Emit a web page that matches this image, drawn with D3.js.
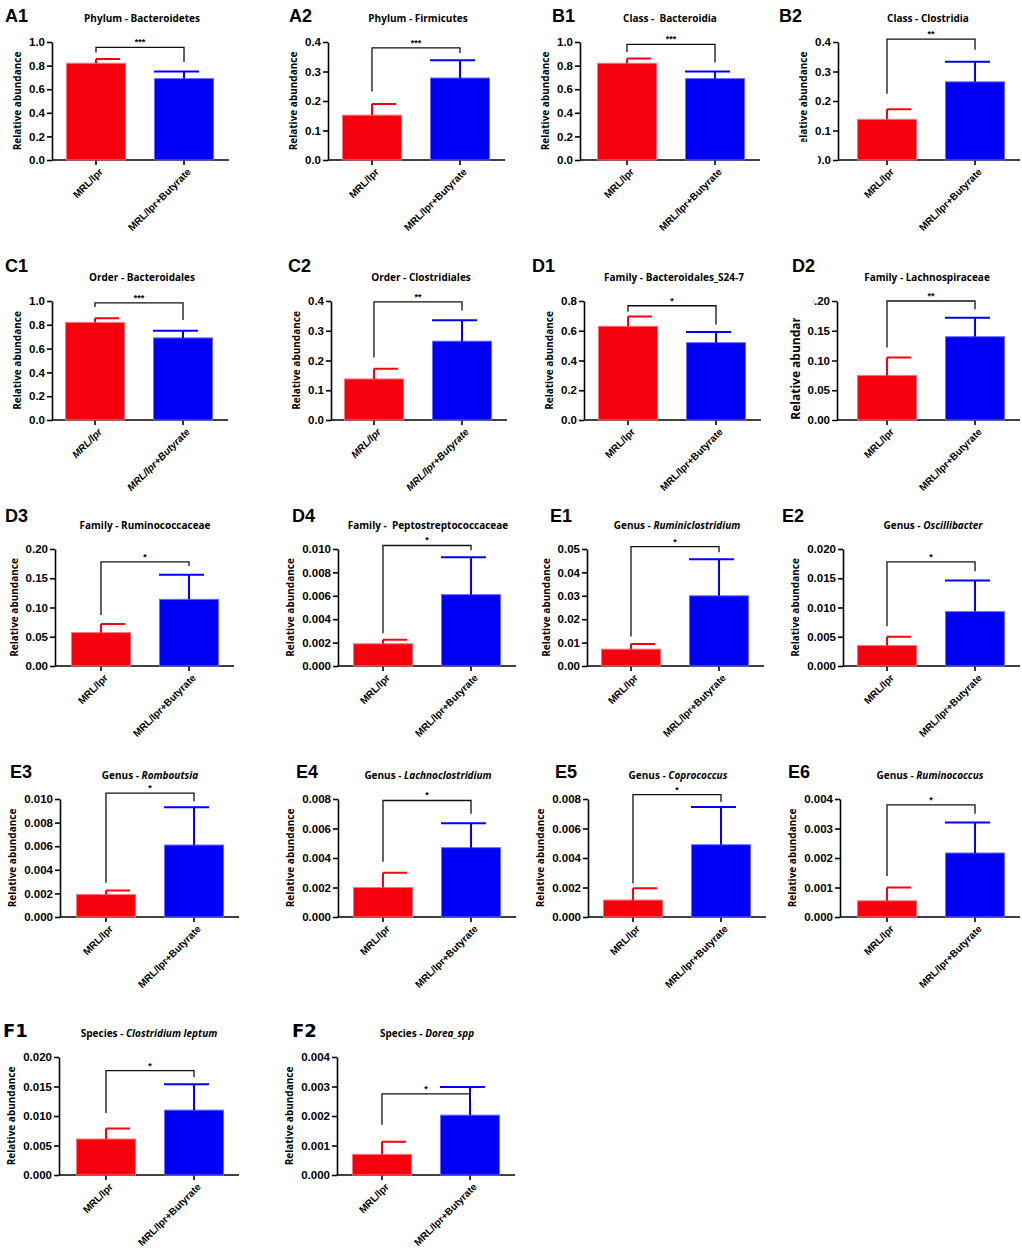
<!DOCTYPE html>
<html>
<head>
<meta charset="utf-8">
<script src="https://cdn.jsdelivr.net/npm/d3@7"></script>
<style>
body { margin: 0; background: #fff; }
svg { display: block; }
.y.axis text { font-family: "Liberation Sans", Arial, sans-serif; font-weight: bold; font-size: 11.5px; fill: #000; }
.x.axis text { font-family: "Liberation Sans", Arial, sans-serif; font-weight: bold; font-size: 10px; fill: #000; }
.axis path, .axis line { stroke: #000; stroke-width: 1.6px; }
.title { font-family: "Open Sans", sans-serif; font-weight: 700; font-size: 10px; }
.ylabel { font-family: "Open Sans", sans-serif; font-weight: 700; font-size: 10px; }
.panel { font-family: "Liberation Sans", Arial, sans-serif; font-weight: bold; font-size: 18px; }
.stars { font-family: "Liberation Sans", Arial, sans-serif; font-weight: bold; font-size: 9px; }
</style>
</head>
<body>
<div id="graphic"></div>
<script>
// ---- data ----
var panelIds = ["A1","A2","B1","B2","C1","C2","D1","D2","D3","D4","E1","E2","E3","E4","E5","E6","F1","F2"];
var titleRank = ["Phylum - ","Phylum - ","Class -  ","Class - ","Order - ","Order - ","Family - ","Family - ",
                 "Family - ","Family -  ","Genus - ","Genus - ","Genus - ","Genus - ","Genus - ","Genus - ",
                 "Species - ","Species - "];
var titleTaxon = ["Bacteroidetes","Firmicutes","Bacteroidia","Clostridia","Bacteroidales","Clostridiales",
                  "Bacteroidales_S24-7","Lachnospiraceae","Ruminococcaceae","Peptostreptococcaceae",
                  "Ruminiclostridium","Oscillibacter","Romboutsia","Lachnoclostridium","Coprococcus",
                  "Ruminococcus","Clostridium leptum","Dorea_spp"];
var taxonItalic = [false,false,false,false,false,false,false,false,false,false,
                   true,true,true,true,true,true,true,true];
var groups = ["MRL/lpr", "MRL/lpr+Butyrate"];

var meanLpr   = [0.82, 0.152, 0.82, 0.138, 0.82, 0.138, 0.63, 0.075, 0.057, 0.0019, 0.0072, 0.0035, 0.0019, 0.0020, 0.00115, 0.00055, 0.0061, 0.0007];
var errTopLpr = [0.855, 0.19, 0.86, 0.172, 0.855, 0.172, 0.695, 0.105, 0.072, 0.00225, 0.0094, 0.005, 0.00225, 0.0030, 0.00195, 0.001, 0.0079, 0.00113];
var meanBut   = [0.69, 0.278, 0.69, 0.265, 0.69, 0.265, 0.52, 0.14, 0.114, 0.0061, 0.030, 0.0093, 0.0061, 0.0047, 0.0049, 0.00217, 0.011, 0.00203];
var errTopBut = [0.75, 0.338, 0.75, 0.333, 0.75, 0.335, 0.592, 0.172, 0.156, 0.0093, 0.0456, 0.0146, 0.0093, 0.00635, 0.00745, 0.0032, 0.0154, 0.00298];

var yTicks = [
    [0, 0.2, 0.4, 0.6, 0.8, 1.0],
    [0, 0.1, 0.2, 0.3, 0.4],
    [0, 0.2, 0.4, 0.6, 0.8, 1.0],
    [0, 0.1, 0.2, 0.3, 0.4],
    [0, 0.2, 0.4, 0.6, 0.8, 1.0],
    [0, 0.1, 0.2, 0.3, 0.4],
    [0, 0.2, 0.4, 0.6, 0.8],
    [0, 0.05, 0.10, 0.15, 0.20],
    [0, 0.05, 0.10, 0.15, 0.20],
    [0, 0.002, 0.004, 0.006, 0.008, 0.010],
    [0, 0.01, 0.02, 0.03, 0.04, 0.05],
    [0, 0.005, 0.010, 0.015, 0.020],
    [0, 0.002, 0.004, 0.006, 0.008, 0.010],
    [0, 0.002, 0.004, 0.006, 0.008],
    [0, 0.002, 0.004, 0.006, 0.008],
    [0, 0.001, 0.002, 0.003, 0.004],
    [0, 0.005, 0.010, 0.015, 0.020],
    [0, 0.001, 0.002, 0.003, 0.004]
];
var tickDigits = [1,1,1,1,1,1,1,2,2,3,2,3,3,3,3,3,3,3];

// significance bracket: level, and where each leg stops
var stars     = ["***","***","***","**","***","**","*","**","*","*","*","*","*","*","*","*","*","*"];
var bracketAt = [0.955, 0.38, 0.98, 0.41, 0.985, 0.397, 0.768, 0.20, 0.178, 0.0103, 0.051, 0.0178, 0.0105, 0.0079, 0.0083, 0.0038, 0.0177, 0.00275];
var legLpr    = [0.91, 0.232, 0.915, 0.225, 0.95, 0.21, 0.728, 0.122, 0.087, 0.0028, 0.0126, 0.0068, 0.0029, 0.00375, 0.00227, 0.00139, 0.0105, 0.0017];
var legBut    = [0.83, 0.363, 0.827, 0.374, 0.84, 0.368, 0.642, 0.186, 0.171, 0.0099, 0.0486, 0.0162, 0.0098, 0.0070, 0.0078, 0.0035, 0.0166, 0.0025];

// ---- layout ----
var rowTop    = [42, 301, 549, 799, 1057];
var rowBase   = [160, 420, 666, 917, 1175];
var rowLabelY = [22, 272, 522, 778, 1037];
var axisX  = [52, 328, 580, 838,  52, 331, 584, 837,  55, 338, 587, 843,  60, 338, 588, 840,  59, 337];
var barX0  = [66, 342, 597, 857,  65, 344, 598, 857,  71, 353, 601, 857,  76, 353, 603, 857,  76, 352];
var labelX = [5, 289, 552, 779,   5, 288, 532, 792,   5, 292, 550, 782,  10, 296, 555, 788,   3, 292];
var italicGroups = {C1: true, C2: true};
var yLabelSize = {D2: 12};
// parts of the figure that are cut off in the original
var yClip = {
    B2: {dx: -20, edge: 142, keep: "above"},
    D2: {dx: -23.5, edge: 318, keep: "below"}
};

var colors = ["#f7000e", "#0000f6"];
var edges = ["#ff7378", "#6b6bff"];

var svg = d3.select("#graphic").append("svg")
    .attr("width", 1022)
    .attr("height", 1250);

var defs = svg.append("defs");

panelIds.forEach(function (id, i) {
    var row = Math.floor(i / 4);
    var top = rowTop[row], base = rowBase[row];
    var ticks = yTicks[i];
    var g = svg.append("g").attr("class", "chart");

    var y = d3.scaleLinear()
        .domain([0, ticks[ticks.length - 1]])
        .range([base, top]);

    var x = d3.scaleBand()
        .domain(groups)
        .range([barX0[i] - 15, barX0[i] + 163])
        .paddingInner(0.318)
        .paddingOuter(0.17);

    // clipped corner for the two damaged panels
    var yg = g.append("g");
    if (yClip[id]) {
        var c = yClip[id];
        var cp = defs.append("clipPath").attr("id", "clip" + id);
        cp.append("rect").attr("x", axisX[i] + c.dx).attr("y", 0).attr("width", 300).attr("height", 1250);
        if (c.keep == "above")
            cp.append("rect").attr("x", 0).attr("y", 0).attr("width", 1022).attr("height", c.edge);
        else
            cp.append("rect").attr("x", 0).attr("y", c.edge).attr("width", 1022).attr("height", 1250 - c.edge);
        yg.attr("clip-path", "url(#clip" + id + ")");
    }

    //y axis
    var gy = yg.append("g")
        .attr("class", "y axis")
        .attr("transform", "translate(" + axisX[i] + ",0)")
        .call(d3.axisLeft(y)
            .tickValues(ticks)
            .tickFormat(d3.format("." + tickDigits[i] + "f"))
            .tickSize(5)
            .tickSizeOuter(0));
    gy.selectAll(".tick text").attr("x", -7);

    var maxW = d3.max(gy.selectAll(".tick text").nodes(), function (n) { return n.getComputedTextLength(); });

    yg.append("text")
        .attr("class", "ylabel")
        .attr("transform", "translate(" + (axisX[i] - maxW - 15) + "," + (top + base) / 2 + ") rotate(-90)")
        .attr("text-anchor", "middle")
        .style("font-size", yLabelSize[id] ? yLabelSize[id] + "px" : null)
        .text("Relative abundance");

    //x axis: baseline plus ticks under each bar
    g.append("line")
        .attr("x1", axisX[i]).attr("x2", barX0[i] + 163)
        .attr("y1", base).attr("y2", base)
        .attr("stroke", "#000").attr("stroke-width", 1.6);

    var gx = g.append("g")
        .attr("class", "x axis")
        .attr("transform", "translate(0," + base + ")")
        .call(d3.axisBottom(x).tickSize(5).tickSizeOuter(0));
    gx.select(".domain").remove();
    gx.selectAll(".tick text")
        .attr("x", 0).attr("y", 0).attr("dy", "0.35em")
        .attr("transform", "translate(5,10) rotate(-45)")
        .style("text-anchor", "end")
        .style("font-style", italicGroups[id] ? "italic" : null);

    var vals = [
        {g: groups[0], mean: meanLpr[i], err: errTopLpr[i]},
        {g: groups[1], mean: meanBut[i], err: errTopBut[i]}
    ];

    g.selectAll(".bar")
        .data(vals)
        .enter()
        .append("rect")
        .attr("class", "bar")
        .attr("x", d => x(d.g) + 0.5)
        .attr("width", x.bandwidth() - 1)
        .attr("y", d => y(d.mean))
        .attr("height", d => base - y(d.mean))
        .attr("fill", (d, k) => colors[k])
        .attr("stroke", (d, k) => edges[k])
        .attr("stroke-width", 1);

    // error bars (caps sit off-centre in the original)
    var capL = [0, -30], capR = [24, 15];
    g.selectAll(".err")
        .data(vals)
        .enter()
        .append("path")
        .attr("class", "err")
        .attr("fill", "none")
        .attr("stroke", (d, k) => colors[k])
        .attr("stroke-width", 2)
        .attr("d", function (d, k) {
            var cx = x(d.g) + x.bandwidth() / 2;
            return "M" + cx + "," + y(d.mean) + "V" + y(d.err) +
                "M" + (cx + capL[k]) + "," + y(d.err) + "H" + (cx + capR[k]);
        });

    // significance bracket
    var c0 = x(groups[0]) + x.bandwidth() / 2,
        c1 = x(groups[1]) + x.bandwidth() / 2;
    g.append("path")
        .attr("fill", "none")
        .attr("stroke", "#111")
        .attr("stroke-width", 1.3)
        .attr("d", "M" + c0 + "," + y(legLpr[i]) + "V" + y(bracketAt[i]) + "H" + c1 + "V" + y(legBut[i]));

    g.append("text")
        .attr("class", "stars")
        .attr("x", (c0 + c1) / 2)
        .attr("y", y(bracketAt[i]) - 2)
        .attr("text-anchor", "middle")
        .text(stars[i]);

    // title
    var t = g.append("text")
        .attr("class", "title")
        .attr("x", axisX[i] + 90)
        .attr("y", top - 20.5)
        .attr("text-anchor", "middle");
    t.append("tspan").attr("xml:space", "preserve").text(titleRank[i]);
    t.append("tspan")
        .style("font-style", taxonItalic[i] ? "italic" : null)
        .text(titleTaxon[i]);

    // panel letter
    g.append("text")
        .attr("class", "panel")
        .attr("x", labelX[i])
        .attr("y", rowLabelY[row])
        .style("font-family", row == 4 ? "'DejaVu Sans', sans-serif" : null)
        .text(id);
});
</script>
</body>
</html>
